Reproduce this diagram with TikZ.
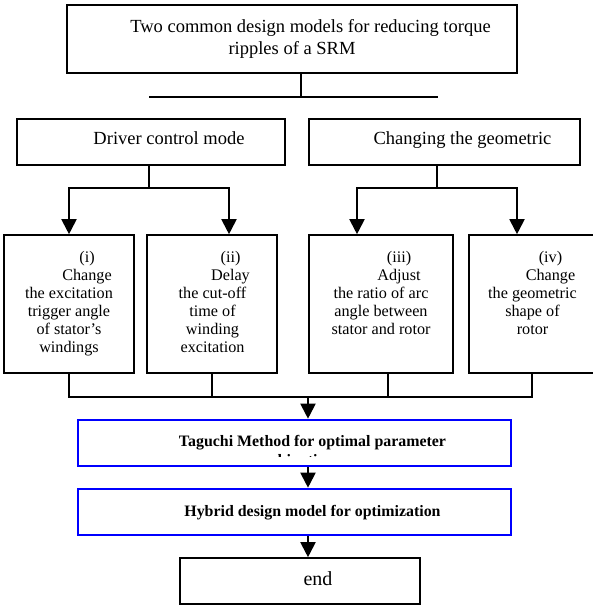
\documentclass[tikz,border=0pt]{standalone}
\usepackage{fontspec}
\setmainfont{Liberation Serif}
\usetikzlibrary{arrows.meta}
\newcommand\myfbig{\fontsize{18.5}{22}\selectfont}
\newcommand\myfsmall{\fontsize{16.2}{18}\selectfont}
\newcommand\myfbold{\fontsize{15.9}{17}\selectfont\bfseries}
\newcommand\myfend{\fontsize{20}{22}\selectfont}
\tikzset{
  box/.style={draw=black, line width=1.6pt, fill=white, rectangle, inner sep=0pt},
  bluebox/.style={draw=blue, line width=2.6pt, fill=white, rectangle, inner sep=0pt},
  conn/.style={draw=black, line width=1.9pt},
  arr/.style={conn, -{Triangle[length=15pt,width=15pt]}},
  sbtext/.style={align=center, anchor=north, inner sep=0pt, font=\myfsmall},
  onetext/.style={inner sep=0pt, anchor=base}
}
\begin{document}
\begin{tikzpicture}[x=1pt, y=-1pt]
\useasboundingbox[fill=white] (0,0) rectangle (593,605);
\clip (0,0) rectangle (593,605);
% boxes
\node[box, minimum width=450, minimum height=68, align=center, font=\myfbig] (top) at (292,39)
  {\hspace*{37pt}Two common design models for reducing torque\\ripples of a SRM};
\node[box, minimum width=268, minimum height=46, font=\myfbig, text height=1.5ex, text depth=0.2ex] (drv) at (151,142)
  {\hspace*{36pt}Driver control mode};
\node[box, minimum width=271, minimum height=46, font=\myfbig, text height=1.5ex, text depth=0.2ex] (chg) at (444.5,142)
  {\hspace*{36pt}Changing the geometric};
\node[box, minimum width=130, minimum height=138] (b1) at (69,304) {};
\node[box, minimum width=130, minimum height=138] (b2) at (212,304) {};
\node[box, minimum width=144, minimum height=138] (b3) at (381,304) {};
\node[box, minimum width=128, minimum height=138] (b4) at (533,304) {};
\node[sbtext] (t1) at (69,251) {\hspace*{36pt}(i)\\\hspace*{36pt}Change\\the excitation\\trigger angle\\of stator’s\\windings};
\node[sbtext] (t2) at (212.5,251) {\hspace*{36pt}(ii)\\\hspace*{36pt}Delay\\the cut-off\\time of\\winding\\excitation};
\node[sbtext] (t3) at (381,251) {\hspace*{36pt}(iii)\\\hspace*{36pt}Adjust\\the ratio of arc\\angle between\\stator and rotor};
\node[sbtext] (t4) at (532.5,251) {\hspace*{36pt}(iv)\\\hspace*{36pt}Change\\the geometric\\shape of\\rotor};
\node[bluebox, minimum width=433, minimum height=46] (tag) at (294.5,443) {};
\node[onetext, font=\myfbold] (tagT) at (294.5,446) {\hspace*{36pt}Taguchi Method for optimal parameter};
\begin{scope}
  \clip (80,421) rectangle (509,456);
  \node[onetext, font=\myfbold] (tagT2) at (292,465) {combination};
\end{scope}
\node[bluebox, minimum width=433, minimum height=46] (hyb) at (294.5,512) {};
\node[onetext, font=\myfbold] (hybT) at (294.5,516) {\hspace*{36pt}Hybrid design model for optimization};
\node[box, minimum width=240, minimum height=46, font=\myfend, text height=2ex, text depth=0ex] (end) at (300,581)
  {\hspace*{36pt}end};
% junction coordinates
\coordinate (tj) at (301,97);
\coordinate (tl) at (149,97);
\coordinate (tr) at (438,97);
\coordinate (dj) at (149,188);
\coordinate (cj) at (437,188);
\coordinate (x2) at (229,0);
\coordinate (x3) at (357,0);
\coordinate (x4) at (517,0);
\coordinate (y1) at (69,0);
\coordinate (y2) at (212,0);
\coordinate (y3) at (388,0);
\coordinate (y4) at (532,0);
\coordinate (bj) at (308,397);
% connectors
\draw[conn] (top.south -| tj) -- (tj);
\draw[conn] (tl) -- (tr);
\draw[conn] (drv.south -| dj) -- (dj);
\draw[arr] (dj) -| (b1.north);
\draw[arr] (dj) -| (b2.north -| x2);
\draw[conn] (chg.south -| cj) -- (cj);
\draw[arr] (cj) -| (b3.north -| x3);
\draw[arr] (cj) -| (b4.north -| x4);
\draw[conn] (b1.south -| y1) |- (bj);
\draw[conn] (b4.south -| y4) |- (bj);
\draw[conn] (b2.south -| y2) -- (y2 |- bj);
\draw[conn] (b3.south -| y3) -- (y3 |- bj);
\draw[arr] (bj) -- (tag.north -| bj);
\draw[arr] (tag.south -| bj) -- (hyb.north -| bj);
\draw[arr] (hyb.south -| bj) -- (end.north -| bj);
\end{tikzpicture}
\end{document}
